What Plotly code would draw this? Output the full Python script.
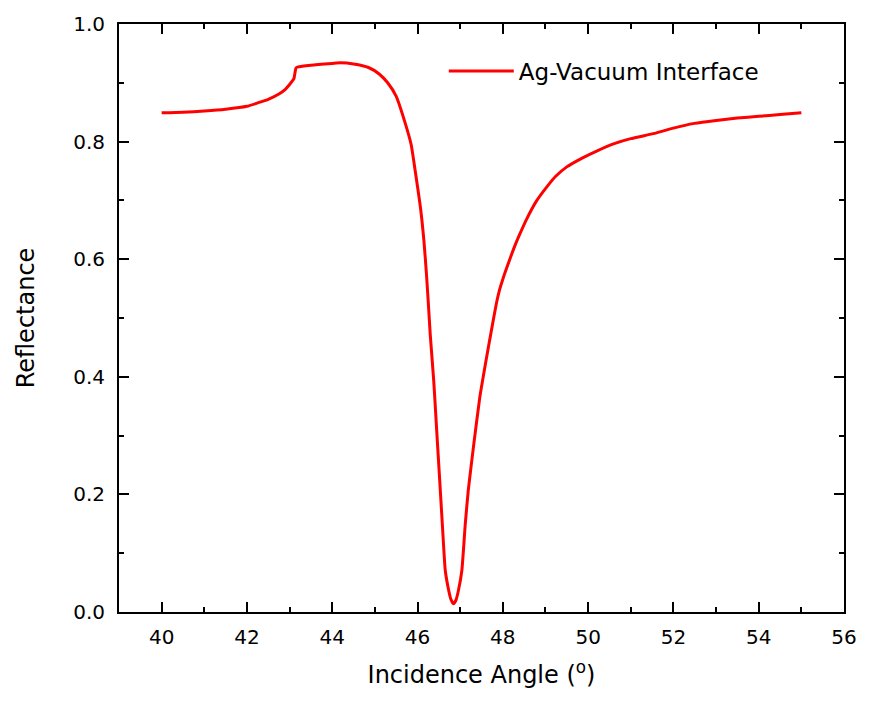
import plotly.graph_objects as go

angle = [40, 40.5, 41, 41.5, 42, 42.3, 42.5, 42.75, 42.9, 43.0, 43.1, 43.15, 43.2, 43.5,
         44.0, 44.2, 44.5, 44.85, 45.1, 45.3, 45.5, 45.7, 45.85, 45.95, 46.07, 46.15,
         46.21, 46.26, 46.3, 46.38, 46.45, 46.52, 46.59, 46.65, 46.73, 46.78, 46.84,
         46.9, 46.96, 47.04, 47.12, 47.19, 47.31, 47.46, 47.6, 47.73, 47.85, 47.92, 48.0,
         48.1, 48.2, 48.3, 48.4, 48.55, 48.78, 49.0, 49.24, 49.5, 49.86, 50.2, 50.63,
         51.0, 51.56, 52.0, 52.49, 53.0, 53.5, 54.0, 54.5, 55]
reflectance = [0.849, 0.850, 0.852, 0.855, 0.860, 0.867, 0.872, 0.881, 0.889, 0.897,
               0.907, 0.925, 0.927, 0.930, 0.933, 0.934, 0.932, 0.926, 0.915, 0.900,
               0.877, 0.834, 0.795, 0.748, 0.687, 0.631, 0.574, 0.517, 0.470, 0.393,
               0.308, 0.224, 0.139, 0.071, 0.037, 0.022, 0.014, 0.020, 0.037, 0.071,
               0.150, 0.207, 0.280, 0.365, 0.425, 0.478, 0.525, 0.547, 0.566,
               0.587, 0.607, 0.626, 0.643, 0.667, 0.698, 0.720, 0.741, 0.757, 0.772,
               0.784, 0.797, 0.805, 0.814, 0.823, 0.831, 0.836, 0.840, 0.843, 0.846, 0.849]

series_name = "Ag-Vacuum Interface"
x_title = "Incidence Angle (<sup>o</sup>)"
y_title = "Reflectance"

FONT = "DejaVu Sans, Liberation Sans, Arial, sans-serif"

fig = go.Figure()
fig.add_trace(go.Scatter(x=angle, y=reflectance, mode="lines", name=series_name,
                         line=dict(color="#ff0000", width=3, shape="spline", smoothing=0.5)))

axis_common = dict(
    showline=True, linecolor="black", linewidth=2, mirror="ticks",
    ticks="inside", ticklen=10, tickwidth=2, tickcolor="black",
    showgrid=False, zeroline=False,
    tickfont=dict(family=FONT, size=20, color="black"),
)

fig.update_xaxes(range=[39, 56], tick0=40, dtick=2,
                 minor=dict(ticks="inside", ticklen=5, tickwidth=2, tickcolor="black", dtick=1, tick0=39),
                 title=dict(text=x_title, font=dict(family=FONT, size=24, color="black"), standoff=18),
                 ticklabelstandoff=6,
                 **axis_common)
fig.update_yaxes(range=[0, 1.0], tick0=0, dtick=0.2, tickformat=".1f",
                 minor=dict(ticks="inside", ticklen=5, tickwidth=2, tickcolor="black", dtick=0.1, tick0=0),
                 title=dict(text=y_title, font=dict(family=FONT, size=24, color="black"), standoff=32),
                 ticklabelstandoff=8,
                 **axis_common)

fig.update_layout(
    width=869, height=702,
    margin=dict(l=119, r=18, t=22, b=90),
    paper_bgcolor="white", plot_bgcolor="white",
    showlegend=True,
    legend=dict(x=0.448, y=0.92, xanchor="left", yanchor="middle", itemwidth=65,
                bgcolor="rgba(0,0,0,0)", font=dict(family=FONT, size=23, color="black")),
)

fig.write_html("out.html")
